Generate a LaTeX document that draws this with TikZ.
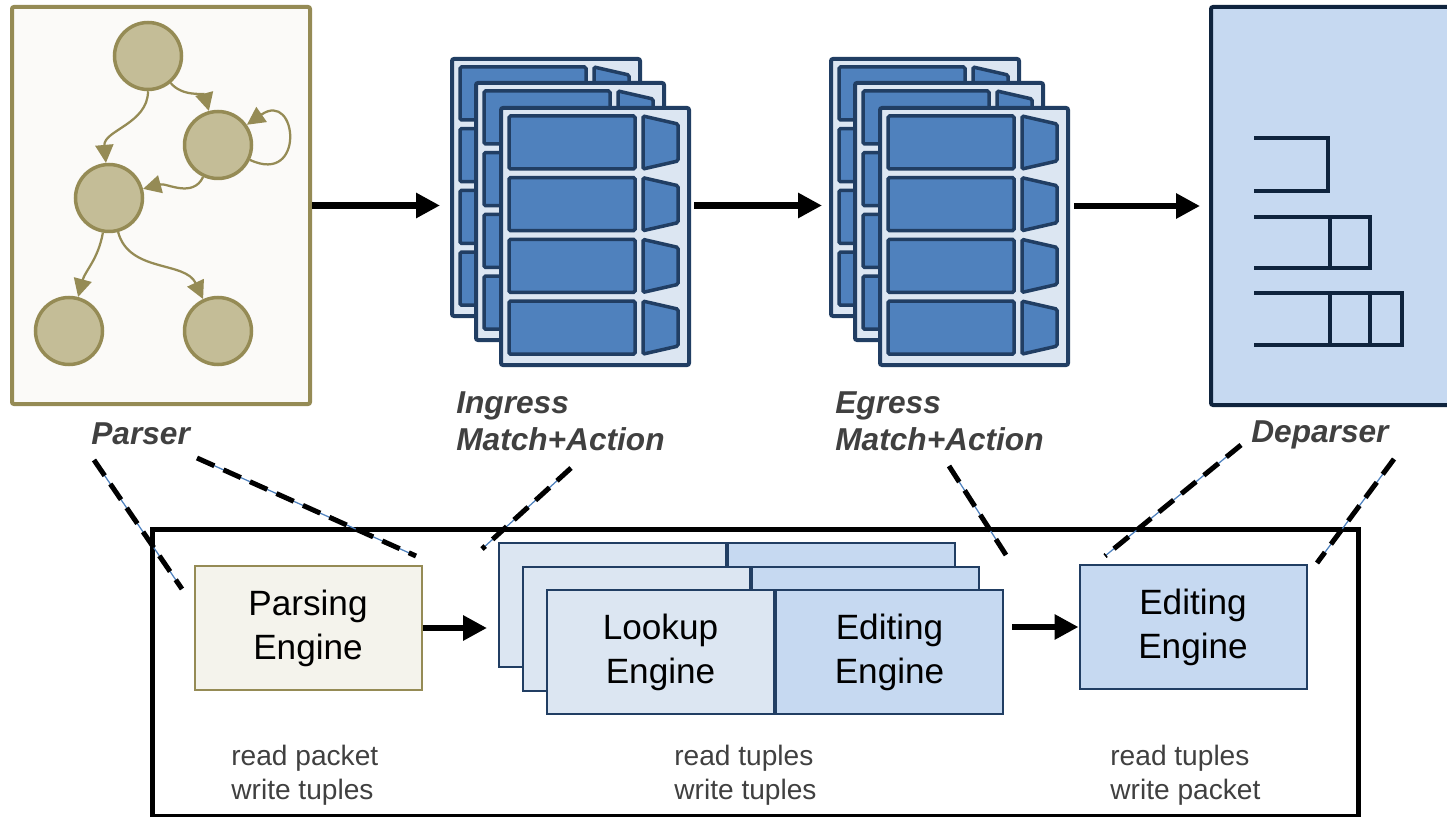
\documentclass[tikz,border=0pt]{standalone}
\usepackage{fontspec}
\setmainfont{Liberation Sans}
\usetikzlibrary{arrows.meta,positioning,calc}
\definecolor{olive}{RGB}{149,139,85}
\definecolor{sand}{RGB}{196,189,151}
\definecolor{paper}{RGB}{251,250,248}
\definecolor{cream}{RGB}{244,243,236}
\definecolor{navy}{RGB}{33,62,99}
\definecolor{ink}{RGB}{15,36,62}
\definecolor{midblue}{RGB}{79,129,189}
\definecolor{pale}{RGB}{220,230,242}
\definecolor{sky}{RGB}{198,217,241}
\definecolor{txtgray}{RGB}{64,64,64}
\tikzset{
  st/.style={circle,draw=olive,fill=sand,line width=0.7mm,minimum size=13.4mm,inner sep=0pt},
  garr/.style={draw=olive,line width=0.45mm,-{Triangle[length=3.6mm,width=3.6mm]}},
  bigarr/.style={line width=1.3mm,-{Triangle[length=4.8mm,width=4.8mm]}},
  pbox/.style={draw=olive,fill=paper,line width=0.8mm,rounded corners=0.4mm,minimum width=59.6mm,minimum height=79.4mm},
  page/.style={draw=navy,fill=pale,line width=0.8mm,rounded corners=0.4mm,minimum width=37.6mm,minimum height=51.4mm},
  cell/.style={draw=navy,fill=midblue,line width=0.7mm,rounded corners=0.3mm},
  dep/.style={draw=ink,fill=sky,line width=0.8mm,rounded corners=0.4mm,minimum width=54mm,minimum height=79.6mm},
  brk/.style={draw=ink,line width=0.75mm},
  eng/.style={draw=navy,line width=0.4mm,align=center,font=\fontsize{20}{25}\selectfont,minimum width=45.4mm,minimum height=24.8mm,inner sep=0pt},
  lbl/.style={font=\fontsize{18}{21}\selectfont\bfseries\itshape,text=txtgray,align=left,inner sep=0pt},
  note/.style={font=\fontsize{16}{19.3}\selectfont,text=txtgray,align=left,inner sep=0pt},
  lead/.style={preaction={draw=midblue,line width=0.25mm},draw=black,line width=1mm,dash pattern=on 3.8mm off 2mm}
}
\begin{document}
\begin{tikzpicture}[x=0.2mm,y=-0.2mm]
\useasboundingbox (0,0) rectangle (1447,817);
\clip (0,0) rectangle (1447,817);
\newcommand{\mapage}[3]{\node[page,anchor=north west] (#1) at (#2,#3) {};
 \begin{scope}[shift={(#2,#3)}]
 \foreach \r in {0,...,3}{
  \draw[cell] (10,10+61.7*\r) rectangle (136,63+61.7*\r);
  \draw[cell] (144,10+61.7*\r) -- (179,18+61.7*\r) -- (179,55+61.7*\r) -- (144,63+61.7*\r) -- cycle;}
 \end{scope}}
\newcommand{\engpair}[5]{\node[eng,fill=pale,anchor=north west] (lk#1) at (#2,#3) {#4};
 \node[eng,fill=sky,anchor=north west] (ed#1) at (lk#1.north east) {#5};}
\node[pbox,anchor=north west] (parser) at (10,5) {};
\node[st] (s0) at (148,56) {};
\node[st] (s1) at (218,145) {};
\node[st] (s2) at (109,198) {};
\node[st] (s3) at (69,331) {};
\node[st] (s4) at (218,331) {};
\draw[garr] (s0) to[out=-90,in=95] (s2);
\draw[garr] (s0) to[out=-50,in=105] (s1);
\draw[garr] (s1) to[out=-115,in=15] (s2);
\draw[garr] (s1) to[out=-25,in=35,looseness=4.5] (s1);
\draw[garr] (s2) to[out=-100,in=75] (s3);
\draw[garr] (s2) to[out=-75,in=115] (s4);
\mapage{ingA}{450}{57}
\mapage{ingB}{474}{81}
\mapage{ingC}{499}{106}
\mapage{egA}{829}{57}
\mapage{egB}{853}{81}
\mapage{egC}{878}{106}
\node[dep,anchor=north west] (deparser) at (1209,5) {};
\draw[brk] (1254,138) -- (1328,138) -- (1328,191) -- (1254,191);
\draw[brk] (1254,217) -- (1370,217) -- (1370,268) -- (1254,268) (1330,217) -- (1330,268);
\draw[brk] (1254,293) -- (1402,293) -- (1402,345) -- (1254,345) (1330,293) -- (1330,345) (1370,293) -- (1370,345);
\draw[bigarr,shorten >=2mm] (parser.east) -- (parser.east -| ingA.west);
\draw[bigarr,shorten <=0.6mm,shorten >=1.4mm] (ingC.east |- parser.east) -- (egA.west |- parser.east);
\draw[bigarr,shorten <=0.8mm,shorten >=1.8mm] (egC.east |- deparser.west) -- (deparser.west);
\node[lbl,anchor=west] (lparser) at (91,434) {Parser};
\node[lbl,anchor=west] (lingress) at (456,421) {Ingress\\Match+Action};
\node[lbl,anchor=west] (legress) at (835,421) {Egress\\Match+Action};
\node[lbl,anchor=west] (ldeparser) at (1251,435) {Deparser};
\node[draw,line width=1mm,anchor=north west,minimum width=241.2mm,minimum height=57.4mm] (target) at (150,527) {};
\node[eng,draw=olive,fill=cream] (parsing) at (308,628) {Parsing\\Engine};
\engpair{A}{498}{542}{}{}
\engpair{B}{522}{566}{}{}
\engpair{C}{546}{589}{Lookup\\Engine}{Editing\\Engine}
\node[eng,fill=sky] (deedit) at (1193,627) {Editing\\Engine};
\draw[bigarr,shorten >=2.2mm] (parsing.east) -- (parsing.east -| lkA.west);
\draw[bigarr,shorten <=1.6mm] (edC.east |- deedit.west) -- (deedit.west);
\node[note,anchor=west] (nparse) at (231,775) {read packet\\write tuples};
\node[note,anchor=west] (nmatch) at (674,775) {read tuples\\write tuples};
\node[note,anchor=west] (ndeparse) at (1110,775) {read tuples\\write packet};
\coordinate (p1) at (94,460); \coordinate (p2) at (182,589);
\coordinate (p3) at (197,458); \coordinate (p4) at (416,556);
\coordinate (i1) at (571,468); \coordinate (i2) at (482,549);
\coordinate (e1) at (949,466); \coordinate (e2) at (1006,555);
\coordinate (d1) at (1241,445); \coordinate (d2) at (1105,556);
\coordinate (d3) at (1394,459); \coordinate (d4) at (1317,563);
\draw[lead] (p1) -- (p2);
\draw[lead] (p3) -- (p4);
\draw[lead] (i1) -- (i2);
\draw[lead] (e1) -- (e2);
\draw[lead] (d1) -- (d2);
\draw[lead] (d3) -- (d4);
\end{tikzpicture}
\end{document}
